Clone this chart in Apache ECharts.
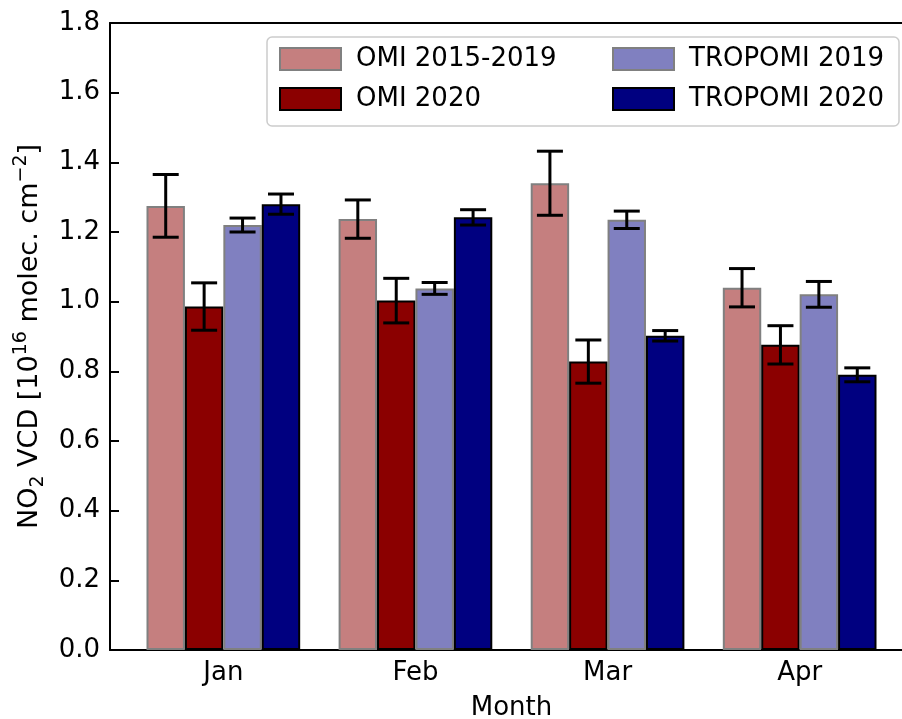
<!DOCTYPE html>
<html>
<head>
<meta charset="utf-8">
<script src="https://cdn.jsdelivr.net/npm/echarts@6/dist/echarts.min.js"></script>
<style>
html,body{margin:0;padding:0;background:#fff;}
#chart{width:902px;height:719px;}
</style>
</head>
<body>
<div id="chart"></div>
<script>
const months = ['Jan', 'Feb', 'Mar', 'Apr'];
const yTicks = [0.0, 0.2, 0.4, 0.6, 0.8, 1.0, 1.2, 1.4, 1.6, 1.8];
const seriesNames = ['OMI 2015-2019', 'OMI 2020', 'TROPOMI 2019', 'TROPOMI 2020'];
const omi1519 = [1.275, 1.237, 1.340, 1.040];
const omi1519Err = [0.090, 0.055, 0.092, 0.055];
const omi2020 = [0.986, 1.003, 0.828, 0.876];
const omi2020Err = [0.068, 0.064, 0.062, 0.055];
const trop2019 = [1.220, 1.038, 1.235, 1.021];
const trop2019Err = [0.020, 0.017, 0.025, 0.037];
const trop2020 = [1.280, 1.242, 0.902, 0.790];
const trop2020Err = [0.029, 0.022, 0.015, 0.020];

const values = [omi1519, omi2020, trop2019, trop2020];
const errors = [omi1519Err, omi2020Err, trop2019Err, trop2020Err];
const fills = ['#c57f7f', '#8b0000', '#8080c0', '#000080'];
const edges = ['#808080', '#000000', '#808080', '#000000'];
const offsets = [-0.3, -0.1, 0.1, 0.3];
const FONT = 'DejaVu Sans';
const FS = 26;

const chart = echarts.init(document.getElementById('chart'), null, {renderer: 'canvas'});

const series = [];
values.forEach((vals, i) => {
  series.push({
    name: seriesNames[i],
    type: 'bar',
    xAxisIndex: 0,
    data: vals.map((v, k) => [k, v]),
    barGap: '0%',
    barCategoryGap: '20%',
    itemStyle: {color: fills[i], borderColor: edges[i], borderWidth: 2},
    emphasis: {disabled: true},
    z: 2
  });
});
values.forEach((vals, i) => {
  series.push({
    type: 'custom',
    xAxisIndex: 0,
    z: 5,
    silent: true,
    data: vals.map((v, k) => [k, v - errors[i][k], v + errors[i][k]]),
    renderItem: function (params, api) {
      const x = api.value(0) + offsets[i];
      const lo = api.coord([x, api.value(1)]);
      const hi = api.coord([x, api.value(2)]);
      const half = 13;
      const st = {stroke: '#000', lineWidth: 3};
      return {
        type: 'group',
        children: [
          {type: 'line', shape: {x1: lo[0], y1: lo[1], x2: hi[0], y2: hi[1]}, style: st},
          {type: 'line', shape: {x1: lo[0] - half, y1: lo[1], x2: lo[0] + half, y2: lo[1]}, style: st},
          {type: 'line', shape: {x1: hi[0] - half, y1: hi[1], x2: hi[0] + half, y2: hi[1]}, style: st}
        ]
      };
    }
  });
});

const legendText = {fontFamily: FONT, fontSize: FS, color: '#000', lineHeight: 28, padding: [0, 0, 0, 10]};

const option = {
  animation: false,
  backgroundColor: '#fff',
  textStyle: {fontFamily: FONT, color: '#000'},
  grid: {left: 110, top: 23, width: 803, height: 627, containLabel: false, outerBoundsMode: 'none'},
  legend: [
    {
      orient: 'vertical', left: 279, top: 45, padding: 0, itemGap: 12,
      itemWidth: 61, itemHeight: 22, icon: 'rect',
      data: [seriesNames[0], seriesNames[1]],
      textStyle: legendText, selectedMode: false
    },
    {
      orient: 'vertical', left: 612, top: 45, padding: 0, itemGap: 12,
      itemWidth: 61, itemHeight: 22, icon: 'rect',
      data: [seriesNames[2], seriesNames[3]],
      textStyle: legendText, selectedMode: false
    }
  ],
  graphic: [{
    type: 'rect', z: -1,
    shape: {x: 267, y: 37, width: 632, height: 89, r: 5},
    style: {fill: '#fff', stroke: '#cccccc', lineWidth: 1.5}
  }],
  xAxis: [
    {
      type: 'value', position: 'bottom', min: -0.59, max: 3.59,
      name: 'Month', nameLocation: 'middle', nameGap: 45,
      nameTextStyle: {fontFamily: FONT, fontSize: FS, color: '#000'},
      axisLine: {show: true, onZero: false, lineStyle: {color: '#000', width: 2}},
      axisTick: {show: false},
      splitLine: {show: false},
      axisLabel: {
        customValues: [0, 1, 2, 3],
        formatter: v => months[Math.round(v)] || '',
        fontFamily: FONT, fontSize: FS, color: '#000', margin: 10
      }
    },
    {
      type: 'value', position: 'top', min: -0.59, max: 3.59,
      axisLine: {show: true, onZero: false, lineStyle: {color: '#000', width: 2}},
      axisTick: {show: false}, axisLabel: {show: false}, splitLine: {show: false}
    }
  ],
  yAxis: {
    type: 'value', min: 0, max: 1.8, interval: 0.2,
    name: 'NO{sub|2} VCD [10{sup|16} molec. cm{sup|−2}]',
    nameLocation: 'middle', nameGap: 58, nameRotate: 90,
    nameTextStyle: {
      fontFamily: FONT, fontSize: 27, color: '#000', lineHeight: 36,
      rich: {
        sub: {fontFamily: FONT, fontSize: 19, color: '#000', verticalAlign: 'bottom', lineHeight: 36},
        sup: {fontFamily: FONT, fontSize: 19, color: '#000', verticalAlign: 'top', lineHeight: 36}
      }
    },
    axisLine: {show: true, onZero: false, lineStyle: {color: '#000', width: 2}},
    axisTick: {show: true, inside: true, length: 9, lineStyle: {color: '#000', width: 2}},
    splitLine: {show: false},
    axisLabel: {
      fontFamily: FONT, fontSize: FS, color: '#000', margin: 10,
      formatter: v => yTicks.find(t => Math.abs(t - v) < 1e-6).toFixed(1)
    }
  },
  series: series
};
chart.setOption(option);
</script>
</body>
</html>
